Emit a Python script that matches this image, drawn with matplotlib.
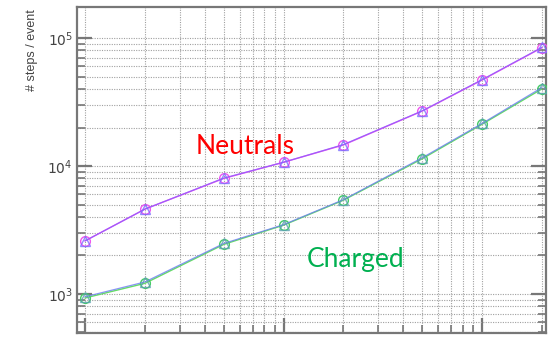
import matplotlib
matplotlib.use("Agg")
import matplotlib.pyplot as plt
from matplotlib.ticker import LogLocator, NullFormatter

# beam energy points and mean number of steps per event
energy = [1, 2, 5, 10, 20, 50, 100, 200]

neutral_a = [2600, 4600, 8000, 10700, 14600, 26900, 47000, 84000]
neutral_b = [2600, 4600, 8050, 10700, 14700, 27000, 47300, 84500]
charged_a = [930, 1210, 2440, 3450, 5400, 11400, 21200, 40000]
charged_b = [950, 1240, 2480, 3480, 5450, 11600, 21500, 41000]

fig = plt.figure(figsize=(5.51, 3.38), dpi=100)
ax = fig.add_axes([77 / 551, 5 / 338, 469 / 551, 326 / 338])

ax.set_xscale("log")
ax.set_yscale("log")
ax.set_xlim(0.91, 210)
ax.set_ylim(495, 1.75e5)

# open circles underneath, open triangles on top
ax.plot(energy, neutral_a, color="#ee55ee", lw=1.0, marker="o", ms=7,
        mfc="none", mec="#ee55ee", mew=1.0, zorder=3)
ax.plot(energy, neutral_b, color="#8a5cff", lw=0.9, marker="^", ms=7,
        mfc="none", mec="#7a6cff", mew=1.0, zorder=4, alpha=0.8)
ax.plot(energy, charged_a, color="#66dd66", lw=1.0, marker="o", ms=7,
        mfc="none", mec="#44cc66", mew=1.0, zorder=3)
ax.plot(energy, charged_b, color="#6a7cf0", lw=0.9, marker="^", ms=7,
        mfc="none", mec="#5aa0b0", mew=1.0, zorder=4, alpha=0.8)

ax.xaxis.set_major_locator(LogLocator(base=10, numticks=10))
ax.xaxis.set_minor_locator(LogLocator(base=10, subs=range(2, 10), numticks=20))
ax.yaxis.set_major_locator(LogLocator(base=10, numticks=10))
ax.yaxis.set_minor_locator(LogLocator(base=10, subs=range(2, 10), numticks=20))
ax.xaxis.set_major_formatter(NullFormatter())
ax.xaxis.set_minor_formatter(NullFormatter())
ax.yaxis.set_minor_formatter(NullFormatter())

ax.grid(True, which="both", color="#a0a0a0", lw=0.8, ls=(0, (1, 1.2)))
ax.set_axisbelow(True)

ax.tick_params(which="major", direction="in", length=11, width=1.6,
               color="#777777", labelsize=10, labelcolor="#444444",
               right=True, top=False)
ax.tick_params(which="minor", direction="in", length=6, width=1.2,
               color="#777777", right=True, top=False)
ax.tick_params(axis="y", pad=3)
for s in ax.spines.values():
    s.set_color("#777777")
    s.set_linewidth(1.6)

fig.text(32 / 551, 1 - 50 / 338, "# steps / event", rotation=90,
         ha="center", va="center", fontsize=9, color="#444444",
         family="Liberation Sans")

fig.text(245 / 551, 1 - 146 / 338, "Neutrals", color="#ff0000",
         fontsize=19, ha="center", va="center", family="Lato")
fig.text(356 / 551, 1 - 259 / 338, "Charged", color="#00b050",
         fontsize=19, ha="center", va="center", family="Lato")

fig.savefig("out.png", dpi=100)
